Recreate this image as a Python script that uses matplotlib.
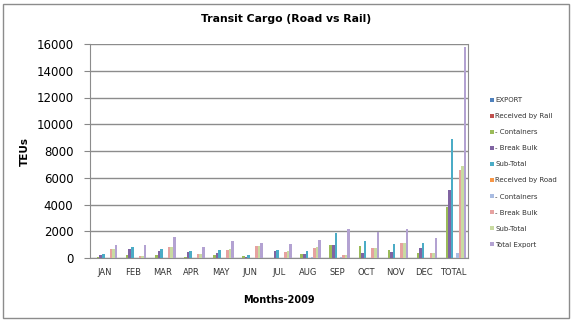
import numpy as np
import matplotlib
matplotlib.use("Agg")
import matplotlib.pyplot as plt
from matplotlib.patches import Rectangle

months = ["JAN", "FEB", "MAR", "APR", "MAY", "JUN", "JUL", "AUG", "SEP", "OCT", "NOV", "DEC", "TOTAL"]

series_names = ["EXPORT", "Received by Rail", "- Containers", "- Break Bulk", "Sub-Total",
                "Received by Road", "- Containers", "- Break Bulk", "Sub-Total", "Total Export"]

export = [0, 0, 0, 0, 0, 0, 0, 0, 0, 0, 0, 0, 0]
rail_recv = [0, 0, 0, 0, 0, 0, 0, 0, 0, 0, 0, 0, 0]
rail_cont = [80, 200, 200, 50, 250, 180, 30, 270, 950, 900, 620, 400, 3850]
rail_bulk = [200, 650, 500, 450, 370, 50, 550, 280, 1000, 380, 480, 750, 5100]
rail_sub = [300, 850, 700, 500, 620, 200, 580, 550, 1900, 1280, 1080, 1130, 8900]
road_recv = [0, 0, 0, 0, 0, 0, 0, 0, 0, 0, 0, 0, 0]
road_cont = [30, 20, 30, 20, 20, 20, 20, 100, 60, 20, 30, 30, 350]
road_bulk = [650, 130, 820, 270, 620, 900, 480, 720, 200, 740, 1120, 350, 6600]
road_sub = [680, 150, 850, 290, 640, 920, 500, 820, 260, 760, 1150, 380, 6900]
total_export = [970, 1000, 1550, 790, 1260, 1120, 1080, 1370, 2150, 1960, 2200, 1480, 15800]

data = [export, rail_recv, rail_cont, rail_bulk, rail_sub,
        road_recv, road_cont, road_bulk, road_sub, total_export]
colors = ["#4F81BD", "#C0504D", "#9BBB59", "#8064A2", "#4BACC6",
          "#F79646", "#A9BCE2", "#E6A2A0", "#C9DBA1", "#B3A2D2"]

fig = plt.figure(figsize=(5.75, 3.22), dpi=100)
ax = fig.add_axes([90 / 575, 1 - 258 / 322, 378 / 575, 214 / 322])

x = np.arange(len(months))
n = len(data)
w = 1 / (n + 1.3)
for i, (vals, c) in enumerate(zip(data, colors)):
    ax.bar(x + (i - (n - 1) / 2) * w, vals, width=w, color=c, label=series_names[i], zorder=3)

ax.set_xlim(-0.5, len(months) - 0.5)
ax.set_ylim(0, 16000)
ax.set_yticks(range(0, 16001, 2000))
ax.set_xticks(x)
ax.set_xticklabels(months, fontsize=6, color="#333333")
ax.tick_params(axis="x", length=0, pad=7)
ax.tick_params(axis="y", labelsize=8.5, length=4, color="#888888", pad=8)
ax.grid(axis="y", color="#8c8c8c", linewidth=1, zorder=0)
for s in ["left", "bottom", "right"]:
    ax.spines[s].set_color("#8c8c8c")
ax.spines["top"].set_visible(False)

fig.text(286 / 575, 1 - 19 / 322, "Transit Cargo (Road vs Rail)", fontsize=7.8,
         fontweight="bold", ha="center", va="center")
ax.set_xlabel("Months-2009", fontsize=7, fontweight="bold")
ax.xaxis.set_label_coords(0.5, -37 / 214)
ax.set_ylabel("TEUs", fontsize=7.5, fontweight="bold")
ax.yaxis.set_label_coords(-60 / 378, 0.5)

leg = ax.legend(loc="center left", bbox_to_anchor=(1.05, 0.40), frameon=False,
                fontsize=5, handlelength=0.5, handleheight=0.5, handletextpad=0.2,
                labelspacing=1.45, borderpad=0)
for t in leg.get_texts():
    t.set_color("#333333")

fig.patches.append(Rectangle((3 / 575, 4 / 322), 566 / 575, 314 / 322, transform=fig.transFigure,
                             fill=False, edgecolor="#8c8c8c", linewidth=1))

fig.savefig("out.png", dpi=100)
